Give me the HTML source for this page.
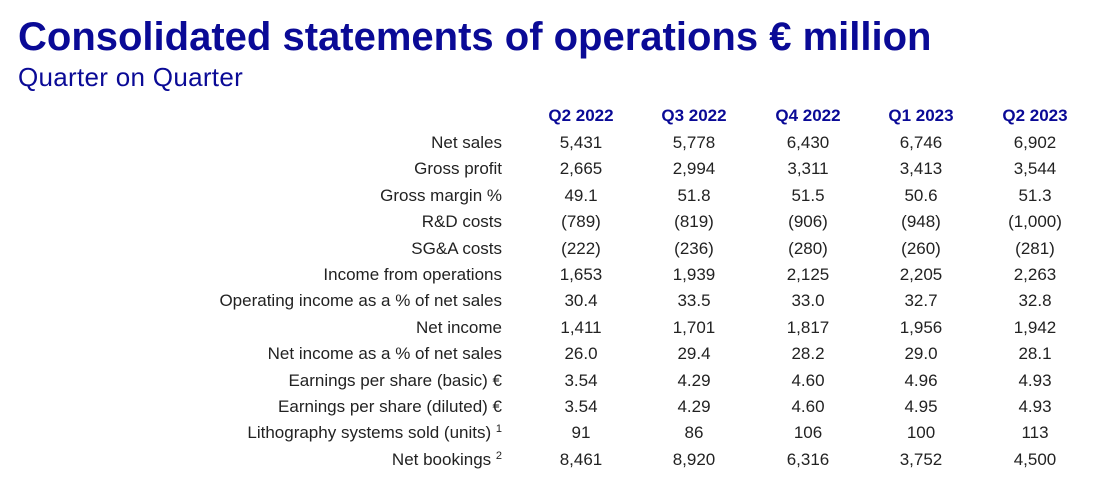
<!DOCTYPE html>
<html><head><meta charset="utf-8"><style>
body{margin:0;width:1115px;height:498px;background:#fff;font-family:"Liberation Sans",Arial,sans-serif;position:relative;overflow:hidden}
.t{position:absolute;left:18px;top:15px;font-size:40px;font-weight:bold;color:#0a0a96;white-space:nowrap;letter-spacing:0px}
.s{position:absolute;left:18px;top:62px;font-size:26px;color:#0a0a96;white-space:nowrap;letter-spacing:0.3px}
.r{position:absolute;left:0;width:1115px;height:20px;font-size:17px;color:#222;line-height:20px}
.r div{position:absolute;white-space:nowrap}
.l{right:613px;text-align:right}
.c{width:100px;text-align:center}
.h{color:#0a0a96;font-weight:bold}
sup{font-size:11px;vertical-align:top;line-height:0;position:relative;top:6px}
</style></head><body>
<div class="t">Consolidated statements of operations € million</div>
<div class="s">Quarter on Quarter</div>
<div id="tb"></div>
<script>
var cols=[581,694,808,921,1035];
var rows=[
["",["Q2 2022","Q3 2022","Q4 2022","Q1 2023","Q2 2023"]],
["Net sales",["5,431","5,778","6,430","6,746","6,902"]],
["Gross profit",["2,665","2,994","3,311","3,413","3,544"]],
["Gross margin %",["49.1","51.8","51.5","50.6","51.3"]],
["R&amp;D costs",["(789)","(819)","(906)","(948)","(1,000)"]],
["SG&amp;A costs",["(222)","(236)","(280)","(260)","(281)"]],
["Income from operations",["1,653","1,939","2,125","2,205","2,263"]],
["Operating income as a % of net sales",["30.4","33.5","33.0","32.7","32.8"]],
["Net income",["1,411","1,701","1,817","1,956","1,942"]],
["Net income as a % of net sales",["26.0","29.4","28.2","29.0","28.1"]],
["Earnings per share (basic) €",["3.54","4.29","4.60","4.96","4.93"]],
["Earnings per share (diluted) €",["3.54","4.29","4.60","4.95","4.93"]],
["Lithography systems sold (units) <sup>1</sup>",["91","86","106","100","113"]],
["Net bookings <sup>2</sup>",["8,461","8,920","6,316","3,752","4,500"]]];
var h="";
rows.forEach(function(r,i){
 var top=i==0?106:(148+(i-1)*26.4-15);
 h+='<div class="r" style="top:'+top+'px"><div class="l">'+r[0]+'</div>';
 r[1].forEach(function(v,j){h+='<div class="c'+(i==0?' h':'')+'" style="left:'+(cols[j]-50)+'px">'+v+'</div>';});
 h+='</div>';
});
document.getElementById('tb').innerHTML=h;
</script>
</body></html>
